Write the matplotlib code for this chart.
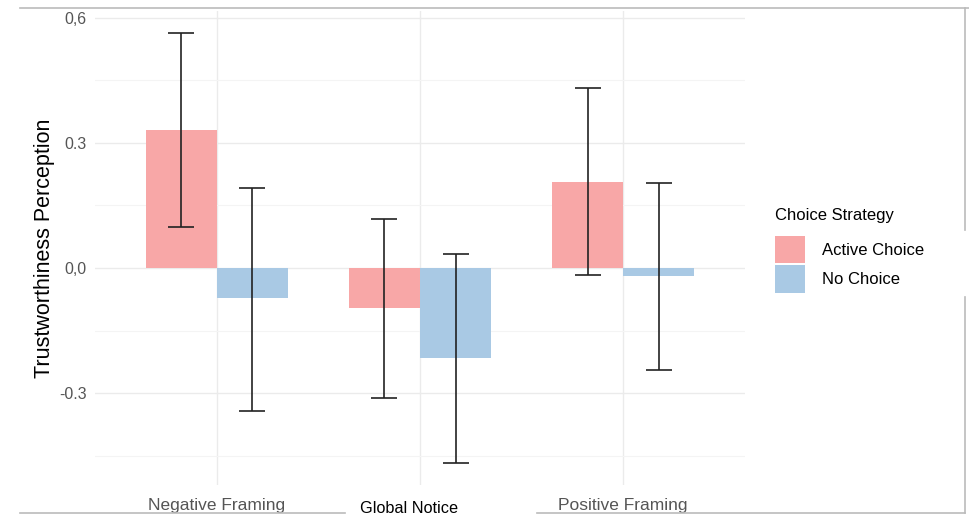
import matplotlib
matplotlib.use("Agg")
import matplotlib.pyplot as plt
import matplotlib.transforms as mtransforms
from matplotlib.patches import Patch
from matplotlib.lines import Line2D
import numpy as np

plt.rcParams['font.family'] = ['Liberation Sans', 'DejaVu Sans']

categories = ["Negative Framing", "Global Notice", "Positive Framing"]
series_names = ["Active Choice", "No Choice"]
active_mean = [0.331, -0.096, 0.206]
active_lo = [0.098, -0.312, -0.017]
active_hi = [0.564, 0.118, 0.432]
nochoice_mean = [-0.072, -0.216, -0.019]
nochoice_lo = [-0.343, -0.468, -0.245]
nochoice_hi = [0.192, 0.034, 0.204]
yticks = [-0.3, 0.0, 0.3, 0.6]
ytick_labels = ["-0.3", "0,0", "0.3", "0,6"]

colors = ["#F8A7A7", "#A9C9E4"]

W, H = 969, 515
fig = plt.figure(figsize=(W / 100, H / 100), dpi=100)
ax = fig.add_axes([95 / W, 1 - 485 / H, (745 - 95) / W, (485 - 11) / H])

x = np.arange(1, len(categories) + 1)
bw = 0.35
for i, (m, lo, hi) in enumerate([(active_mean, active_lo, active_hi),
                                 (nochoice_mean, nochoice_lo, nochoice_hi)]):
    xs = x + (i - 0.5) * bw
    ax.bar(xs, m, width=bw, color=colors[i], edgecolor='none', zorder=2)
    m = np.array(m)
    yerr = np.vstack([m - np.array(lo), np.array(hi) - m])
    ax.errorbar(xs, m, yerr=yerr, fmt='none', ecolor='#222222', elinewidth=1.2,
                capsize=9.5, capthick=1.2, zorder=3)

ax.set_xlim(0.4, 3.6)
ax.set_ylim(-0.52, 0.616)
ax.set_yticks(yticks)
ax.set_yticklabels(ytick_labels)
ax.set_yticks([-0.45, -0.15, 0.15, 0.45], minor=True)
ax.set_xticks(x)
ax.set_xticklabels(categories)

ax.grid(True, which='major', axis='both', color='#EBEBEB', linewidth=1.0, zorder=0)
ax.grid(True, which='minor', axis='y', color='#F4F4F4', linewidth=0.8, zorder=0)
for s in ax.spines.values():
    s.set_visible(False)
ax.tick_params(axis='both', which='both', length=0)
ax.tick_params(axis='y', labelsize=11.5, labelcolor='#555555', pad=6)
ax.tick_params(axis='x', labelsize=12.5, labelcolor='#555555', pad=9.5)

labels = ax.get_xticklabels()
labels[1].set_color('black')
labels[1].set_fontsize(11.7)
off = mtransforms.ScaledTranslation(-0.11, -0.025, fig.dpi_scale_trans)
labels[1].set_transform(labels[1].get_transform() + off)

ax.set_ylabel("Trustworthiness Perception", fontsize=15.5, color='black', labelpad=3)

handles = [Patch(facecolor=colors[0], edgecolor='none'),
           Patch(facecolor=colors[1], edgecolor='none')]
leg = fig.legend(handles, series_names, title="Choice Strategy",
                 loc='upper left', bbox_to_anchor=(760 / W, 1 - 193 / H),
                 frameon=False, fontsize=12, title_fontsize=12,
                 handlelength=1.8, handleheight=2.2, handletextpad=1.0,
                 labelspacing=0.1)
leg._legend_box.align = "left"
leg._legend_box.sep = 9

# screenshot frame lines
lc = '#BBBBBB'
fig.add_artist(Line2D([20 / W, 1], [1 - 8 / H, 1 - 8 / H], color=lc, lw=1.2, transform=fig.transFigure))
fig.add_artist(Line2D([965 / W, 965 / W], [1 - 8 / H, 1 - 230 / H], color=lc, lw=1.2, transform=fig.transFigure))
fig.add_artist(Line2D([965 / W, 965 / W], [1 - 297 / H, 1 - 513 / H], color=lc, lw=1.2, transform=fig.transFigure))
fig.add_artist(Line2D([20 / W, 345 / W], [1 - 513 / H, 1 - 513 / H], color=lc, lw=1.2, transform=fig.transFigure))
fig.add_artist(Line2D([537 / W, 965 / W], [1 - 513 / H, 1 - 513 / H], color=lc, lw=1.2, transform=fig.transFigure))

fig.savefig("out.png", dpi=100)
